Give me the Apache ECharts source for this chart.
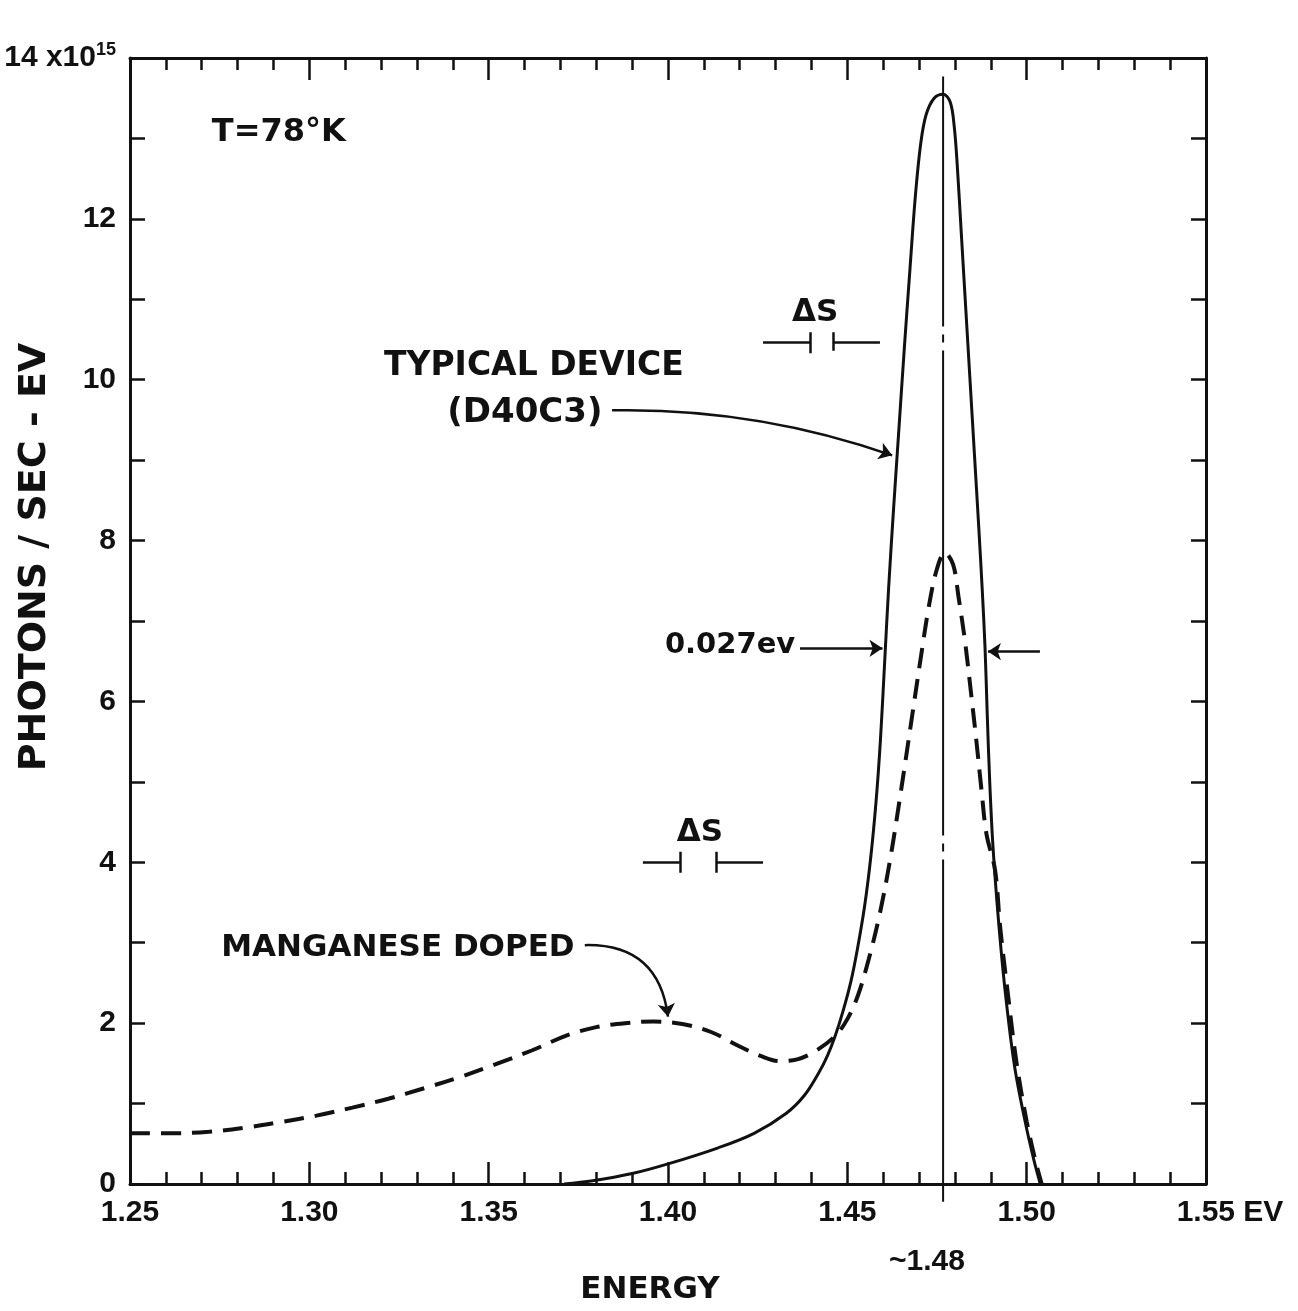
<!DOCTYPE html>
<html>
<head>
<meta charset="utf-8">
<script src="https://cdn.jsdelivr.net/npm/echarts@6/dist/echarts.min.js"></script>
<style>html,body{margin:0;padding:0;background:#fff}#c{width:1298px;height:1311px}</style>
</head>
<body>
<div id="c"></div>
<script>
// ---------- data ----------
// Typical device (D40C3), solid curve: energy (eV) and photons/sec-eV (units of 1e15)
const typicalEnergy = [1.371,1.379,1.390,1.400,1.414,1.424,1.433,1.438,1.442,1.4445,1.4466,1.4488,1.451,1.4528,1.4548,1.4565,1.4580,1.4592,1.4603,1.4615,1.4629,1.4644,1.4659,1.4675,1.4690,1.4705,1.4720,1.4742,1.4767,1.4787,1.4798,1.4806,1.4818,1.4830,1.4842,1.4854,1.4866,1.4876,1.4884,1.4890,1.4897,1.4906,1.4921,1.4940,1.4966,1.4996,1.5020,1.5038];
const typicalPhotons = [0,0.04,0.13,0.25,0.45,0.63,0.88,1.10,1.38,1.60,1.84,2.15,2.52,2.92,3.45,4.05,4.75,5.50,6.40,7.40,8.40,9.40,10.40,11.40,12.30,12.95,13.30,13.50,13.55,13.45,13.15,12.70,11.80,10.90,10.00,9.10,8.20,7.40,6.66,5.85,5.00,4.20,3.30,2.40,1.47,0.77,0.30,0];
// Manganese doped, dashed curve
const dopedEnergy = [1.250,1.262,1.272,1.282,1.292,1.302,1.312,1.322,1.332,1.342,1.352,1.362,1.372,1.380,1.388,1.396,1.404,1.412,1.420,1.426,1.431,1.436,1.441,1.4466,1.450,1.453,1.456,1.459,1.462,1.465,1.468,1.4705,1.4728,1.4750,1.4772,1.4795,1.4810,1.4828,1.4845,1.4860,1.4874,1.4888,1.4912,1.4926,1.4948,1.4972,1.5000,1.5025,1.5042];
const dopedPhotons = [0.63,0.63,0.65,0.70,0.77,0.85,0.95,1.06,1.19,1.33,1.49,1.66,1.85,1.95,2.00,2.02,1.99,1.89,1.71,1.59,1.53,1.55,1.65,1.84,2.05,2.35,2.80,3.35,4.05,4.90,5.80,6.55,7.20,7.65,7.85,7.70,7.30,6.75,6.10,5.50,4.90,4.35,3.90,3.20,2.35,1.50,0.78,0.28,0];
// peak marker
const peakEnergy = 1.4767;
const peakLineTop = 13.77;
const peakLabel = '~1.48';
// tick labels
const xTickLabels = ['1.25','1.30','1.35','1.40','1.45','1.50','1.55'];
const xUnit = ' EV';
const yTickLabels = ['0','2','4','6','8','10','12','14'];
const yScaleBase = ' x10';
const yScaleExp = '15';
const xTitle = 'ENERGY';
const yTitle = 'PHOTONS / SEC - EV';
// annotation texts
const noteTexts = ['T=78°K','TYPICAL DEVICE','(D40C3)','MANGANESE DOPED','0.027ev','ΔS','ΔS'];

// ---------- layout / style (annotation placement in data units) ----------
const notePlace = [
  {at:[1.2915,13.07], size:32},
  {at:[1.3626,10.17], size:33},
  {at:[1.3601,9.59], size:34},
  {at:[1.3247,2.93], size:31},
  {at:[1.4173,6.70], size:29},
  {at:[1.4410,10.83], size:31},
  {at:[1.4089,4.36], size:31}
];
const segments = [
  [[1.4265,10.47],[1.4396,10.47]],[[1.4396,10.59],[1.4396,10.33]],
  [[1.4460,10.59],[1.4460,10.36]],[[1.4460,10.47],[1.4591,10.47]],
  [[1.3930,4.00],[1.4033,4.00]],[[1.4033,4.13],[1.4033,3.87]],
  [[1.4134,4.13],[1.4134,3.87]],[[1.4134,4.00],[1.4265,4.00]]
];
const arrows = [
  {c:[[1.3844,9.62],[1.4625,9.06]], curve:0.09},
  {c:[[1.3768,2.97],[1.4000,2.08]], curve:0.45},
  {c:[[1.4368,6.66],[1.4598,6.66]], curve:0},
  {c:[[1.5037,6.62],[1.4892,6.62]], curve:0}
];

const INK = '#111';
const FT = "'Liberation Sans',sans-serif";
const FA = "'DejaVu Sans',sans-serif";

function xAx(pos, labels){
  return {
    type:'value', min:1.25, max:1.55, interval:0.05, position:pos,
    axisLine:{show:true, onZero:false, lineStyle:{color:INK, width:3}},
    axisTick:{show:true, inside:true, length:22, lineStyle:{color:INK, width:2.5}},
    minorTick:{show:true, splitNumber:5, length:12, lineStyle:{color:INK, width:2.5}},
    splitLine:{show:false}, minorSplitLine:{show:false},
    axisLabel: labels ? {
      show:true, margin:14, color:INK, fontFamily:FT, fontWeight:'bold', fontSize:30,
      formatter: v => {
        const i = Math.round((v-1.25)/0.05);
        const t = xTickLabels[i];
        return i === xTickLabels.length-1 ? '{pad|}{n|'+t+'}{u|'+xUnit+'}' : '{n|'+t+'}';
      },
      rich:{ n:{fontFamily:FT, fontWeight:'bold', fontSize:30, color:INK},
             u:{fontFamily:FT, fontWeight:'bold', fontSize:30, color:INK},
             pad:{width:48} }
    } : {show:false},
    name: labels ? xTitle : '', nameLocation:'middle', nameGap:90, nameMoveOverlap:false,
    nameTextStyle:{color:INK, fontFamily:FA, fontWeight:'bold', fontSize:31, padding:[0,36,0,0]}
  };
}
function yAx(pos, labels){
  return {
    type:'value', min:0, max:14, interval:2, position:pos,
    axisLine:{show:true, onZero:false, lineStyle:{color:INK, width:3}},
    axisTick:{show:true, inside:true, length:15, lineStyle:{color:INK, width:2.5}},
    minorTick:{show:true, splitNumber:2, length:15, lineStyle:{color:INK, width:2.5}},
    splitLine:{show:false}, minorSplitLine:{show:false},
    axisLabel: labels ? {
      show:true, margin:14, color:INK, fontFamily:FT, fontWeight:'bold', fontSize:30,
      formatter: v => {
        const i = Math.round(v/2);
        return i === yTickLabels.length-1 ? '{n|'+yTickLabels[i]+yScaleBase+'}{s|'+yScaleExp+'}' : '{n|'+yTickLabels[i]+'}';
      },
      rich:{ n:{fontFamily:FT, fontWeight:'bold', fontSize:30, color:INK, lineHeight:34},
             s:{fontFamily:FT, fontWeight:'bold', fontSize:18, color:INK, verticalAlign:'top'} }
    } : {show:false},
    name: labels ? yTitle : '', nameLocation:'middle', nameGap:76, nameMoveOverlap:false,
    nameTextStyle:{color:INK, fontFamily:FA, fontWeight:'bold', fontSize:38, padding:[0,0,0,128]}
  };
}

const zip = (a,b) => a.map((v,i)=>[v,b[i]]);

const option = {
  backgroundColor:'#fff',
  animation:false,
  grid:{left:130, right:92, top:58, bottom:127, containLabel:false, outerBoundsMode:'none'},
  xAxis:[xAx('bottom', true), xAx('top', false)],
  yAxis:[yAx('left', true), yAx('right', false)],
  series:[
    {type:'line', name:'Typical device (D40C3)', data:zip(typicalEnergy, typicalPhotons),
     showSymbol:false, smooth:0.35,
     lineStyle:{color:INK, width:3}, z:3},
    {type:'line', name:'Manganese doped', data:zip(dopedEnergy, dopedPhotons),
     showSymbol:false, smooth:0.35,
     lineStyle:{color:INK, width:4, type:[20,11]}, z:3},
    {type:'line', name:'peak', data:[[peakEnergy, peakLineTop],[peakEnergy, -0.22]],
     showSymbol:false, clip:false,
     lineStyle:{color:INK, width:2, type:[485,8,8,8], dashOffset:235}, z:2},
    {type:'lines', coordinateSystem:'cartesian2d', symbol:'none', silent:true, z:4,
     lineStyle:{color:INK, width:2.5, opacity:1},
     data: segments.map(s=>({coords:s}))},
    {type:'lines', coordinateSystem:'cartesian2d', symbol:['none','arrow'], symbolSize:13, silent:true, z:4,
     lineStyle:{color:INK, width:2.5, opacity:1},
     data: arrows.map(a=>({coords:a.c, lineStyle:{curveness:a.curve}}))},
    {type:'scatter', symbolSize:0, clip:false, silent:true, z:6,
     itemStyle:{opacity:1, color:INK},
     data: noteTexts.map((t,i)=>({name:t, value:notePlace[i].at,
        label:{fontSize:notePlace[i].size}}))
       .concat([{name:peakLabel, value:[peakEnergy-0.0045,-0.97], label:{fontFamily:FT, fontSize:30}}]),
     label:{show:true, position:'inside', formatter:p=>p.name, color:INK, opacity:1,
            fontFamily:FA, fontWeight:'bold', fontSize:31}}
  ]
};
const chart = echarts.init(document.getElementById('c'));
chart.setOption(option);
</script>
</body>
</html>
